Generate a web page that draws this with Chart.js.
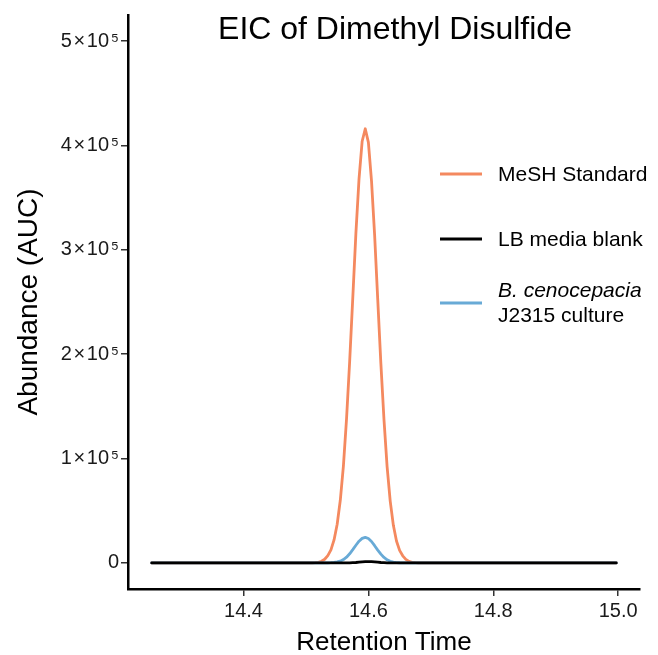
<!DOCTYPE html>
<html>
<head>
<meta charset="utf-8">
<script src="https://cdn.jsdelivr.net/npm/chart.js@4.4.1/dist/chart.umd.min.js"></script>
<style>
  body { margin: 0; background: #fff; }
  canvas { display: block; }
</style>
</head>
<body>
<canvas id="chart" width="658" height="655"></canvas>
<script>
// retention time (min) shared by every trace
const retentionTime = [
  14.253,
  14.505, 14.51, 14.515, 14.52, 14.525, 14.53, 14.535, 14.54, 14.545, 14.55,
  14.555, 14.56, 14.565, 14.57, 14.575, 14.58, 14.585, 14.59, 14.595, 14.60,
  14.605, 14.61, 14.615, 14.62, 14.625, 14.63, 14.635, 14.64, 14.645, 14.65,
  14.655, 14.66, 14.665, 14.67, 14.675, 14.68, 14.685,
  14.997
]

// abundance
const meshStandard = [
  0,
  0, 0, 200, 600, 1600, 3500, 7000, 12500, 22000, 37000,
  60000, 93000, 138000, 193000, 254000, 316000, 368000, 404000, 416000, 403000,
  366000, 314000, 252000, 191000, 137000, 92000, 59000, 36000, 21000, 12000,
  6800, 3400, 1500, 600, 200, 0, 0,
  0
]
const lbBlank = [
  0,
  0, 0, 0, 0, 0, 0, 0, 0, 0, 0,
  0, 0, 0, 0, 200, 400, 700, 1000, 1200, 1300,
  1200, 1000, 700, 400, 200, 0, 0, 0, 0, 0,
  0, 0, 0, 0, 0, 0, 0,
  0
]
const cenocepacia = [
  0,
  0, 0, 0, 0, 0, 0, 100, 200, 400, 900,
  1700, 3200, 5500, 8700, 12700, 16900, 20800, 23500, 24500, 23400,
  20500, 16500, 12300, 8400, 5200, 3000, 1600, 800, 350, 150,
  50, 0, 0, 0, 0, 0, 0,
  0
]

const xTicks = [14.4, 14.6, 14.8, 15.0]
const yTicks = [0, 100000, 200000, 300000, 400000, 500000]

const seriesNames = ['MeSH Standard', 'LB media blank', 'B. cenocepacia J2315 culture']
const colors = ['#F4895F', '#000000', '#68AAD6']

const FONT = "'Liberation Sans', Arial, Helvetica, sans-serif"

function points(values) {
  return retentionTime.map((t, i) => ({ x: t, y: values[i] }))
}

// title + legend drawn by hand (legend has an italic part and sits inside the panel)
const overlay = {
  id: 'overlay',
  afterDraw(chart) {
    const ctx = chart.ctx
    ctx.save()
    ctx.fillStyle = '#000'
    ctx.textBaseline = 'alphabetic'

    ctx.font = '32px ' + FONT
    ctx.textAlign = 'center'
    ctx.fillText('EIC of Dimethyl Disulfide', 395, 39)

    ctx.textAlign = 'left'
    const keys = [174, 239, 303]
    keys.forEach((y, i) => {
      ctx.strokeStyle = colors[i]
      ctx.lineWidth = 3
      ctx.beginPath()
      ctx.moveTo(440, y)
      ctx.lineTo(482, y)
      ctx.stroke()
    })
    ctx.font = '21px ' + FONT
    ctx.fillText(seriesNames[0], 498, 181)
    ctx.fillText(seriesNames[1], 498, 246)
    ctx.font = 'italic 21px ' + FONT
    ctx.fillText('B. cenocepacia', 498, 297)
    ctx.font = '21px ' + FONT
    ctx.fillText('J2315 culture', 498, 322)
    ctx.restore()
  }
}

new Chart(document.getElementById('chart'), {
  type: 'line',
  data: {
    datasets: [{
      label: seriesNames[0],
      data: points(meshStandard),
      borderColor: colors[0],
      order: 2
    }, {
      label: seriesNames[1],
      data: points(lbBlank),
      borderColor: colors[1],
      order: 0
    }, {
      label: seriesNames[2],
      data: points(cenocepacia),
      borderColor: colors[2],
      order: 1
    }]
  },
  options: {
    responsive: false,
    animation: false,
    layout: { padding: { left: 0, right: 18, top: 15, bottom: 0 } },
    elements: {
      point: { radius: 0 },
      line: { borderWidth: 2.8, tension: 0, borderJoinStyle: 'round', borderCapStyle: 'round' }
    },
    plugins: {
      legend: { display: false },
      title: { display: false },
      tooltip: { enabled: false }
    },
    scales: {
      x: {
        type: 'linear',
        min: 14.215,
        max: 15.035,
        afterFit: (s) => { s.height = 66 },
        afterBuildTicks: (s) => { s.ticks = xTicks.map(v => ({ value: v })) },
        border: { display: true, color: '#000', width: 2.5 },
        grid: { drawOnChartArea: false, drawTicks: true, tickLength: 7, color: '#333', lineWidth: 1.5 },
        ticks: {
          color: '#1a1a1a',
          padding: 3,
          font: { family: FONT, size: 20 },
          callback: (v) => Number(v).toFixed(1)
        },
        title: {
          display: true,
          text: 'Retention Time',
          color: '#000',
          font: { family: FONT, size: 26 },
          padding: { top: 0, bottom: -3 }
        }
      },
      y: {
        min: -25000,
        max: 525000,
        afterFit: (s) => { s.width = 128 },
        afterBuildTicks: (s) => { s.ticks = yTicks.map(v => ({ value: v })) },
        border: { display: true, color: '#000', width: 2.5 },
        grid: { drawOnChartArea: false, drawTicks: true, tickLength: 7, color: '#333', lineWidth: 1.5 },
        ticks: {
          color: '#1a1a1a',
          padding: 2,
          font: { family: FONT, size: 20 },
          callback: (v) => v === 0 ? '0' : (v / 100000) + '\u200A×\u200A10\u200A⁵'
        },
        title: {
          display: true,
          text: 'Abundance (AUC)',
          color: '#000',
          font: { family: FONT, size: 28 },
          padding: { top: 12, bottom: 0 }
        }
      }
    }
  },
  plugins: [overlay]
})
</script>
</body>
</html>
